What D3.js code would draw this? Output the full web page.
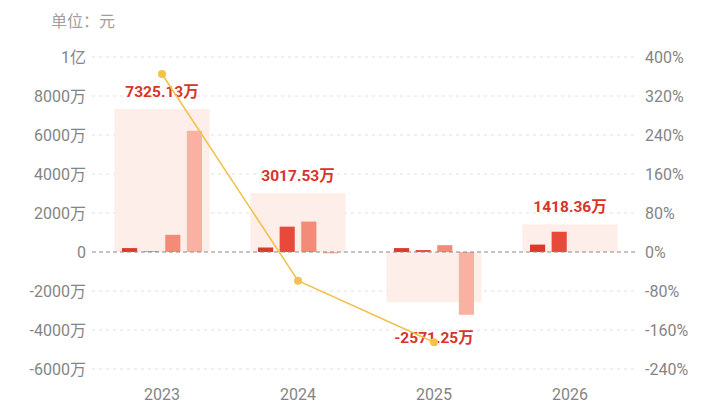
<!DOCTYPE html>
<html>
<head>
<meta charset="utf-8">
<script src="https://cdn.jsdelivr.net/npm/d3@7"></script>
<style>
  html, body { margin: 0; padding: 0; background: #fff; }
  svg { display: block; font-family: Roboto, "Noto Sans CJK SC", sans-serif; }
</style>
</head>
<body>
<svg id="chart" width="720" height="405"></svg>
<script>
// values in 万元
const years = ["2023", "2024", "2025", "2026"];
const totals = [7325.13, 3017.53, -2571.25, 1418.36];
const seriesA = [200, 230, 200, 380];
const seriesB = [30, 1300, 100, 1038];
const seriesC = [880, 1560, 350, 0];
const seriesD = [6215, -72, -3221, 0];
const growth = [365, -58.8, -185.2, null];   // %
const leftTicks = [-6000, -4000, -2000, 0, 2000, 4000, 6000, 8000, 10000];
const rightTicks = [-240, -160, -80, 0, 80, 160, 240, 320, 400];

const seriesColors = ["#d93a2b", "#e9493a", "#f28c77", "#fab1a2"];
const allSeries = [seriesA, seriesB, seriesC, seriesD];

const svg = d3.select("#chart");

const x = d3.scaleBand().domain(years).range([94, 638]);
const y = d3.scaleLinear().domain([-6000, 10000]).range([369, 57]);
const yR = d3.scaleLinear().domain([-240, 400]).range([369, 57]);
const sub = d3.scaleBand().domain(d3.range(4)).range([-40, 40]).paddingInner(0.3);

const fmtLeft = v => v === 0 ? "0" : v === 10000 ? "1亿" : `${v}万`;

// unit
svg.append("text")
  .attr("x", 51).attr("y", 27)
  .attr("font-family", "'Noto Sans CJK SC', sans-serif")
  .attr("font-size", 16).attr("fill", "#a0a0a0")
  .text("单位：元");

// grid
svg.append("g")
  .selectAll("line")
  .data(leftTicks.filter(d => d !== 0))
  .join("line")
  .attr("x1", 92).attr("x2", 638)
  .attr("y1", d => y(d)).attr("y2", d => y(d))
  .attr("stroke", "#e0e0e0")
  .attr("stroke-dasharray", "3,4");

// axes
const yAxis = d3.axisLeft(y).tickValues(leftTicks).tickFormat(fmtLeft).tickSize(0).tickPadding(0);
svg.append("g")
  .attr("transform", "translate(86,0)")
  .call(yAxis)
  .call(g => g.select(".domain").remove())
  .selectAll("text")
  .attr("font-size", 16).attr("fill", "#858585")
  .attr("font-family", "Roboto, 'Noto Sans CJK SC', sans-serif");

const yAxisR = d3.axisRight(yR).tickValues(rightTicks).tickFormat(d => `${d}%`).tickSize(0).tickPadding(0);
svg.append("g")
  .attr("transform", "translate(645,0)")
  .call(yAxisR)
  .call(g => g.select(".domain").remove())
  .selectAll("text")
  .attr("font-size", 16).attr("fill", "#858585")
  .attr("font-family", "Roboto, sans-serif");

const xAxis = d3.axisBottom(x).tickSize(0).tickPadding(0);
svg.append("g")
  .attr("transform", "translate(0,389)")
  .call(xAxis)
  .call(g => g.select(".domain").remove())
  .selectAll("text")
  .attr("font-size", 16).attr("fill", "#858585")
  .attr("font-family", "Roboto, sans-serif");

// total background
const bgW = x.bandwidth() * 0.7;
svg.append("g")
  .selectAll("rect")
  .data(years)
  .join("rect")
  .attr("x", d => x(d) + x.bandwidth() / 2 - bgW / 2)
  .attr("width", bgW)
  .attr("y", (d, i) => y(Math.max(0, totals[i])))
  .attr("height", (d, i) => Math.abs(y(totals[i]) - y(0)))
  .attr("fill", "#fdece7")
  .attr("opacity", 0.9);

// sub bars
svg.append("g")
  .selectAll("g")
  .data(allSeries)
  .join("g")
  .attr("fill", (s, k) => seriesColors[k])
  .each(function (s, k) {
    d3.select(this).selectAll("rect")
      .data(s)
      .join("rect")
      .attr("x", (v, i) => x(years[i]) + x.bandwidth() / 2 + sub(k))
      .attr("width", sub.bandwidth())
      .attr("y", v => y(Math.max(0, v)))
      .attr("height", v => Math.abs(y(v) - y(0)));
  });

// zero line
svg.append("line")
  .attr("x1", 92).attr("x2", 638)
  .attr("y1", y(0)).attr("y2", y(0))
  .attr("stroke", "#8a8a8a")
  .attr("stroke-dasharray", "4,3");

// total labels
svg.append("g")
  .selectAll("text")
  .data(years)
  .join("text")
  .attr("x", d => x(d) + x.bandwidth() / 2)
  .attr("y", (d, i) => totals[i] >= 0 ? y(totals[i]) - 12 : y(totals[i]) + 41)
  .attr("text-anchor", "middle")
  .attr("font-size", 15.5).attr("font-weight", "bold")
  .attr("fill", "#d7352a")
  .text((d, i) => `${totals[i].toFixed(2)}万`);

// growth line
const pts = years.map((d, i) => ({ year: d, g: growth[i] })).filter(p => p.g !== null);
const line = d3.line()
  .x(p => x(p.year) + x.bandwidth() / 2)
  .y(p => yR(p.g));
svg.append("path")
  .datum(pts)
  .attr("d", line)
  .attr("fill", "none")
  .attr("stroke", "#f2c24f")
  .attr("stroke-width", 1.6);
svg.append("g")
  .selectAll("circle")
  .data(pts)
  .join("circle")
  .attr("cx", p => x(p.year) + x.bandwidth() / 2)
  .attr("cy", p => yR(p.g))
  .attr("r", 4)
  .attr("fill", "#f2c24f");
</script>
</body>
</html>
